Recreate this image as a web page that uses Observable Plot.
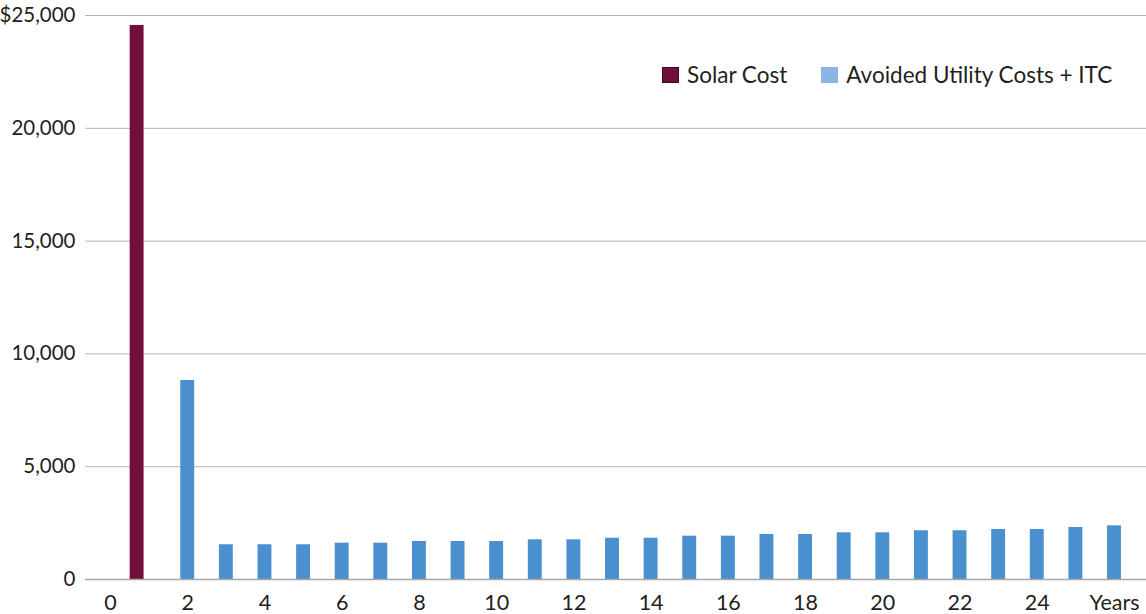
<!DOCTYPE html>
<html>
<head>
<meta charset="utf-8">
<script src="https://cdn.jsdelivr.net/npm/d3@7"></script>
<script src="https://cdn.jsdelivr.net/npm/@observablehq/plot@0.6"></script>
<style>
  html, body { margin: 0; padding: 0; background: #fff; }
  #wrap { position: relative; width: 1146px; height: 614px; font-family: Lato, "Noto Sans", sans-serif; color: #231f20; }
  #legend { position: absolute; top: 62px; left: 662px; display: flex; align-items: center; font-size: 22.5px; line-height: 26px; white-space: nowrap; }
  .item { display: flex; align-items: center; margin-right: 34px; flex: none; }
  .sw { width: 17px; height: 16px; margin-right: 8px; box-sizing: border-box; flex: none; }
</style>
</head>
<body>
<div id="wrap"><div id="legend"></div></div>
<script>
// ---- data ----
const solarYears = [1];
const solarValues = [24560];
const avoidedYears = [2,3,4,5,6,7,8,9,10,11,12,13,14,15,16,17,18,19,20,21,22,23,24,25,26];
const avoidedValues = [8820,1540,1540,1540,1610,1610,1685,1685,1685,1760,1760,1830,1830,1920,1920,1995,1995,2070,2070,2160,2160,2215,2215,2305,2380];
const xTickValues = [0,2,4,6,8,10,12,14,16,18,20,22,24,26];
const xTickLabels = ["0","2","4","6","8","10","12","14","16","18","20","22","24","Years"];
const yTickValues = [0,5000,10000,15000,20000,25000];
const yTickLabels = ["0","5,000","10,000","15,000","20,000","$25,000"];
const seriesNames = ["Solar Cost", "Avoided Utility Costs + ITC"];
const seriesColors = ["#700f3c", "#4a90cf"];
const legendColors = ["#700f3c", "#8db4e2"];

const solar = solarYears.map((y, i) => ({year: y, value: solarValues[i]}));
const avoided = avoidedYears.map((y, i) => ({year: y, value: avoidedValues[i]}));
const xLab = new Map(xTickValues.map((v, i) => [v, xTickLabels[i]]));
const yLab = new Map(yTickValues.map((v, i) => [v, yTickLabels[i]]));
const half = 0.18;

const chart = Plot.plot({
  width: 1146,
  height: 614,
  marginLeft: 85,
  marginRight: 0,
  marginTop: 15,
  marginBottom: 35,
  style: {fontFamily: 'Lato, "Noto Sans", sans-serif', color: "#231f20", background: "#fff"},
  x: {type: "linear", domain: [0, 26], range: [110, 1114]},
  y: {domain: [0, 25000]},
  marks: [
    Plot.gridY(yTickValues.filter(d => d > 0), {stroke: "#b4b4b4", strokeOpacity: 1}),
    Plot.rectY(solar, {x1: d => d.year - half, x2: d => d.year + half, y: "value", dx: -12, fill: seriesColors[0]}),
    Plot.rectY(avoided, {x1: d => d.year - half, x2: d => d.year + half, y: "value", fill: seriesColors[1]}),
    Plot.ruleY([0], {stroke: "#a6a6a6", strokeWidth: 1.3}),
    Plot.axisY(yTickValues, {tickSize: 0, tickPadding: 10, fontSize: 20.5, tickFormat: d => yLab.get(d), label: null}),
    Plot.axisX(xTickValues, {tickSize: 0, tickPadding: 15, fontSize: 21.5, tickFormat: d => xLab.get(d), label: null})
  ]
});
document.getElementById("wrap").prepend(chart);

const legend = document.getElementById("legend");
seriesNames.forEach((name, i) => {
  const it = document.createElement("div");
  it.className = "item";
  const sw = document.createElement("div");
  sw.className = "sw";
  sw.style.background = legendColors[i];
  if (i === 0) sw.style.border = "1px solid #3a0820";
  const t = document.createElement("span");
  t.textContent = name;
  it.append(sw, t);
  legend.append(it);
});
</script>
</body>
</html>
